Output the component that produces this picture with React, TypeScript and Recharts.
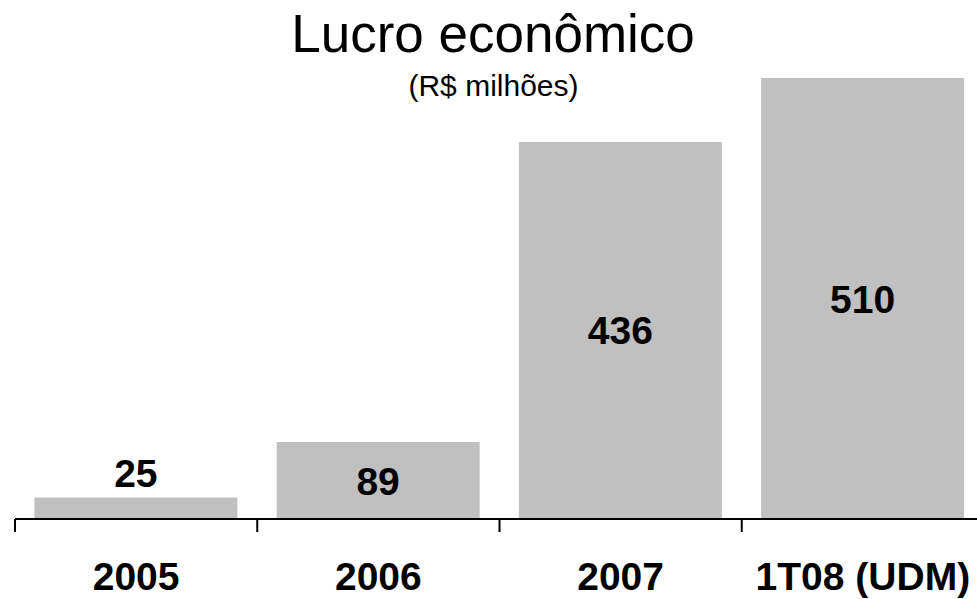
import { BarChart, Bar, XAxis, YAxis, LabelList } from 'recharts'

const categories = ['2005', '2006', '2007', '1T08 (UDM)']
const values = [25, 89, 436, 510]

const data = categories.map((name, i) => ({ name, value: values[i] }))

const FONT = '"Liberation Sans", Arial, Helvetica, sans-serif'
const BAR_COLOR = '#c0c0c0'

function CategoryTick(props: any) {
  const { x, y, payload, index } = props
  const half = payload?.offset ?? 121
  return (
    <g>
      <line x1={x - half} y1={y} x2={x - half} y2={y + 13} stroke="#000" strokeWidth={2} />
      {index === categories.length - 1 && (
        <line x1={x + half} y1={y} x2={x + half} y2={y + 13} stroke="#000" strokeWidth={2} />
      )}
      <text
        x={x}
        y={y + 71}
        textAnchor="middle"
        fontFamily={FONT}
        fontWeight="bold"
        fontSize={39}
        fill="#000"
      >
        {payload.value}
      </text>
    </g>
  )
}

function ValueLabel(props: any) {
  const { x, y, width, height, value } = props
  const cx = x + width / 2
  // short bars get the label above, tall ones in the middle
  const ty = height < 50 ? y - 10 : y + height / 2 + 14
  return (
    <text x={cx} y={ty} textAnchor="middle" fontFamily={FONT} fontWeight="bold" fontSize={39} fill="#000">
      {value}
    </text>
  )
}

export default function App() {
  return (
    <div style={{ position: 'absolute', left: 0, top: 0, width: 977, height: 599, overflow: 'hidden', background: '#fff' }}>
      <div
        style={{
          position: 'absolute',
          left: 0,
          width: 986,
          top: 6,
          textAlign: 'center',
          fontFamily: FONT,
          fontSize: 53,
          lineHeight: '56px',
          color: '#000',
        }}
      >
        Lucro econômico
      </div>
      <div
        style={{
          position: 'absolute',
          left: 0,
          width: 987,
          top: 70,
          textAlign: 'center',
          fontFamily: FONT,
          fontSize: 30,
          lineHeight: '32px',
          color: '#000',
        }}
      >
        (R$ milhões)
      </div>
      <BarChart
        width={977}
        height={599}
        data={data}
        margin={{ top: 78, right: -7, bottom: 0, left: 15 }}
        barCategoryGap="8%"
      >
        <YAxis hide domain={[0, 'dataMax']} />
        <XAxis
          dataKey="name"
          height={80}
          tickSize={0}
          tickMargin={0}
          tickLine={false}
          axisLine={{ stroke: '#000', strokeWidth: 2 }}
          tick={<CategoryTick />}
          interval={0}
        />
        <Bar dataKey="value" fill={BAR_COLOR} isAnimationActive={false}>
          <LabelList dataKey="value" content={<ValueLabel />} />
        </Bar>
      </BarChart>
    </div>
  )
}
